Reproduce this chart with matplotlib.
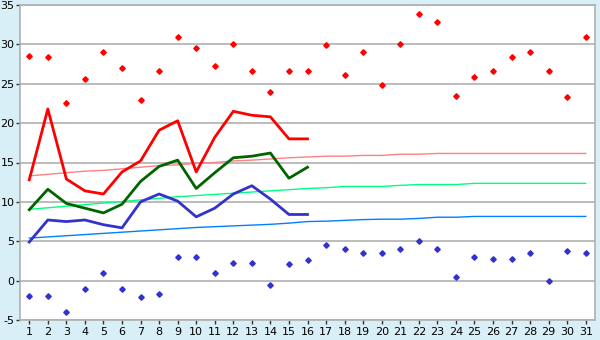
import matplotlib
matplotlib.use("Agg")
import matplotlib.pyplot as plt
import numpy as np

plt.rcParams["axes.unicode_minus"] = False

# daily values
days = list(range(1, 32))

max_pts = [28.5, 28.4, 22.5, 25.6, 29.0, 27.0, 23.0, 26.6, 31.0, 29.5,
           27.2, 30.0, 26.6, 24.0, 26.6, 26.6, 29.9, 26.1, 29.0, 24.9,
           30.0, 33.9, 32.8, 23.5, 25.9, 26.6, 28.4, 29.0, 26.6, 23.3, 31.0]
min_pts = [-2.0, -2.0, -4.0, -1.0, 1.0, -1.1, -2.1, -1.7, 3.0, 3.0,
           1.0, 2.2, 2.2, -0.5, 2.1, 2.6, 4.5, 4.0, 3.5, 3.5,
           4.0, 5.0, 4.0, 0.5, 3.0, 2.8, 2.8, 3.5, 0.0, 3.7, 3.5]

line_days = list(range(1, 17))
max_line = [12.8, 21.8, 12.9, 11.4, 11.0, 13.8, 15.2, 19.1, 20.3, 13.8,
            18.2, 21.5, 21.0, 20.8, 18.0, 18.0]
mean_line = [9.0, 11.6, 9.8, 9.2, 8.6, 9.7, 12.6, 14.5, 15.3, 11.7,
             13.7, 15.6, 15.8, 16.2, 13.0, 14.4]
min_line = [4.9, 7.7, 7.5, 7.7, 7.1, 6.7, 10.0, 11.0, 10.1, 8.1,
            9.2, 11.0, 12.05, 10.35, 8.4, 8.4]

# normals (thin lines)
max_norm = [13.3, 13.5, 13.7, 13.9, 14.0, 14.2, 14.4, 14.6, 14.7, 14.9,
            15.0, 15.2, 15.3, 15.45, 15.6, 15.7, 15.8, 15.8, 15.9, 15.9,
            16.05, 16.05, 16.15, 16.15, 16.15, 16.15, 16.15, 16.15, 16.15, 16.15, 16.15]
mean_norm = [9.05, 9.25, 9.45, 9.65, 9.85, 10.05, 10.25, 10.45, 10.65, 10.8,
             10.95, 11.1, 11.25, 11.4, 11.55, 11.7, 11.8, 11.95, 11.95, 11.95,
             12.1, 12.2, 12.2, 12.2, 12.35, 12.35, 12.35, 12.35, 12.35, 12.35, 12.35]
min_norm = [5.4, 5.55, 5.7, 5.85, 6.0, 6.15, 6.3, 6.45, 6.6, 6.75,
            6.85, 6.95, 7.05, 7.15, 7.3, 7.5, 7.55, 7.65, 7.75, 7.8,
            7.8, 7.9, 8.05, 8.05, 8.15, 8.15, 8.15, 8.15, 8.15, 8.15, 8.15]

fig = plt.figure(figsize=(6, 3.4), dpi=100)
fig.patch.set_facecolor("#d9eff7")
ax = fig.add_axes([20 / 600, 20 / 340, 575 / 600, 315 / 340])
ax.set_facecolor("white")

ax.set_xlim(0.5, 31.5)
ax.set_ylim(-5, 35)
ax.set_yticks(np.arange(-5, 36, 5))
ax.set_xticks(days)
ax.yaxis.grid(True, color="#b0b0b0", linewidth=1.2)
ax.set_axisbelow(True)

for s in ax.spines.values():
    s.set_color("#b0b0b0")
    s.set_linewidth(1.2)
ax.tick_params(axis="both", labelsize=8, length=3, color="#333333", width=1)
ax.tick_params(axis="y", pad=1)
ax.tick_params(axis="x", pad=2)

# thin normal lines
ax.plot(days, max_norm, color="#ff8080", lw=1)
ax.plot(days, mean_norm, color="#00ff80", lw=1)
ax.plot(days, min_norm, color="#0080ff", lw=1)

# daily lines
ax.plot(line_days, max_line, color="#ff0000", lw=2)
ax.plot(line_days, mean_line, color="#006400", lw=2)
ax.plot(line_days, min_line, color="#3333cc", lw=2)

# extremes
ax.plot(days, max_pts, "D", color="#ff0000", ms=2.8, ls="none")
ax.plot(days, min_pts, "D", color="#3333cc", ms=2.8, ls="none")

fig.savefig("out.png", dpi=100, facecolor=fig.get_facecolor())
